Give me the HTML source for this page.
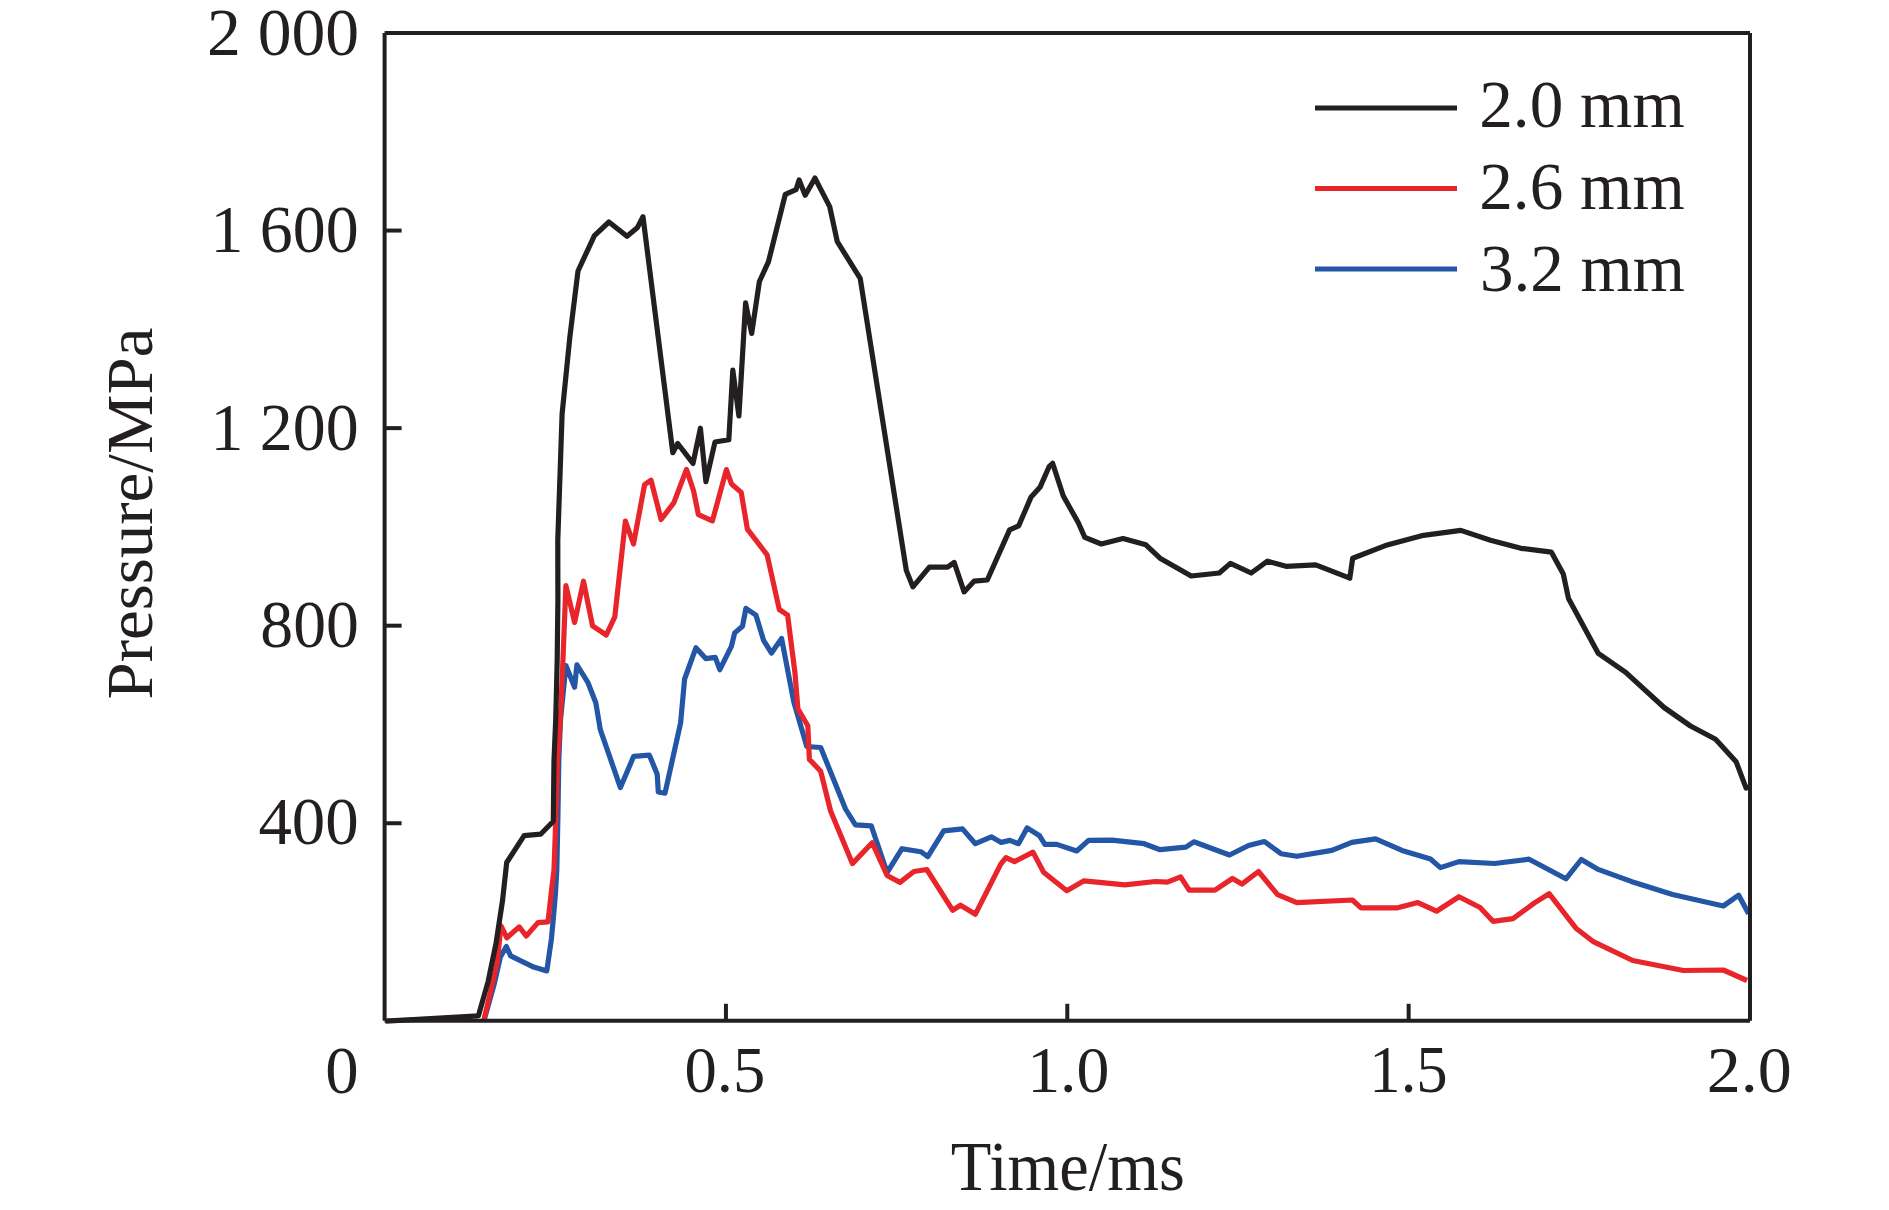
<!DOCTYPE html>
<html><head><meta charset="utf-8"><style>
html,body{margin:0;padding:0;background:#fff;width:1889px;height:1210px;overflow:hidden}
svg{display:block}
text{font-family:"Liberation Serif",serif;fill:#231f20}
</style></head><body>
<svg width="1889" height="1210" viewBox="0 0 1889 1210">
<rect width="1889" height="1210" fill="#fff"/>
<g fill="none" stroke-linejoin="round" stroke-linecap="butt">
<path d="M484.0,1020.5 L494.0,984.9 L500.4,956.9 L506.4,946.5 L510.6,955.9 L533.7,967.1 L546.8,970.9 L551.4,939.1 L553.6,915.5 L555.5,892.7 L556.8,870.0 L557.9,817.0 L558.8,760.0 L560.5,720.0 L565.9,665.5 L574.6,687.2 L576.9,664.9 L588.0,682.7 L595.8,702.8 L600.3,729.6 L620.4,787.6 L633.7,756.3 L649.4,755.2 L657.2,774.2 L658.3,792.0 L665.0,793.2 L680.6,722.9 L684.6,679.0 L695.9,647.8 L705.7,658.6 L715.3,657.4 L719.8,669.7 L731.4,646.3 L734.7,632.9 L742.5,626.2 L745.9,608.4 L755.9,615.1 L763.7,640.7 L771.5,653.0 L781.6,638.5 L793.8,702.1 L806.8,746.5 L820.7,747.5 L845.5,809.0 L855.4,824.9 L871.3,825.9 L887.1,872.5 L902.0,848.7 L920.8,851.7 L927.8,856.6 L943.7,830.8 L962.5,828.9 L975.4,843.7 L991.3,836.8 L1001.2,842.4 L1009.9,840.4 L1018.5,843.7 L1027.1,827.9 L1039.6,835.8 L1044.9,844.4 L1056.8,844.4 L1076.7,851.0 L1088.6,840.4 L1111.8,840.2 L1144.2,843.7 L1160.1,849.7 L1185.9,847.1 L1193.8,841.8 L1229.5,855.0 L1248.5,845.5 L1264.4,841.5 L1281.0,853.7 L1296.8,856.3 L1331.9,850.4 L1351.8,842.4 L1375.6,838.9 L1402.0,850.4 L1430.5,859.0 L1440.4,867.6 L1459.0,861.6 L1494.6,863.5 L1529.1,859.2 L1565.9,878.8 L1581.3,859.5 L1597.4,869.1 L1631.2,881.4 L1672.6,894.5 L1723.3,906.0 L1738.7,895.2 L1748.6,913.7" stroke="#2456a6" stroke-width="5.2"/>
<path d="M483.8,1020.3 L491.9,985.9 L497.2,962.3 L501.0,925.8 L506.9,937.8 L519.2,926.9 L526.2,936.0 L538.0,922.6 L548.0,921.8 L551.8,888.0 L554.0,870.0 L555.6,824.8 L557.5,760.0 L560.3,720.0 L562.6,669.0 L565.9,585.5 L574.6,622.5 L583.5,581.2 L592.5,625.8 L606.3,635.0 L614.8,616.9 L625.4,521.0 L633.5,544.0 L644.6,484.6 L651.0,480.2 L661.1,519.5 L673.9,502.7 L686.5,469.4 L693.6,491.0 L698.4,514.7 L712.4,520.9 L726.4,469.6 L731.5,484.0 L741.2,492.4 L747.4,529.2 L767.1,554.8 L779.3,609.5 L787.6,615.1 L795.0,673.1 L797.9,708.8 L807.8,725.7 L809.4,759.4 L820.7,771.3 L830.6,811.0 L852.4,863.6 L872.2,842.7 L887.1,875.5 L900.0,882.4 L913.9,871.5 L926.8,869.5 L952.6,910.2 L960.5,905.2 L975.4,914.2 L1000.6,864.3 L1005.9,857.6 L1014.5,861.6 L1033.0,852.1 L1043.6,872.2 L1066.8,890.7 L1084.0,880.8 L1125.0,884.8 L1155.4,881.5 L1167.3,882.1 L1180.6,876.8 L1189.2,890.1 L1215.0,890.1 L1232.4,878.5 L1241.9,884.1 L1258.5,871.5 L1277.6,894.7 L1296.8,902.6 L1352.4,900.0 L1361.0,907.9 L1396.8,907.9 L1417.9,902.6 L1436.5,911.2 L1459.0,896.7 L1480.0,907.5 L1493.0,921.3 L1513.0,918.7 L1534.5,902.9 L1549.1,893.7 L1575.9,928.2 L1592.8,941.3 L1632.7,960.5 L1683.4,970.5 L1723.3,970.0 L1747.0,980.5" stroke="#e8252a" stroke-width="5.2"/>
<path d="M385.5,1021.2 L478.4,1015.8 L488.1,981.6 L496.1,943.0 L502.6,900.0 L506.7,862.5 L524.1,835.6 L540.6,834.2 L553.3,821.3 L554.0,760.0 L555.7,720.0 L557.2,660.0 L557.9,600.0 L557.8,560.0 L557.8,539.4 L562.1,414.0 L569.8,337.6 L578.0,271.0 L594.4,235.6 L608.9,222.0 L627.0,236.2 L637.5,227.4 L643.0,216.8 L672.8,452.7 L677.7,443.5 L693.0,463.4 L700.4,428.2 L705.9,481.7 L715.0,442.0 L728.8,439.8 L732.8,370.1 L738.9,416.0 L745.6,302.9 L751.7,333.4 L759.4,281.5 L768.5,261.6 L785.3,194.3 L796.0,189.7 L799.1,180.0 L805.2,195.2 L815.0,178.1 L829.7,206.6 L837.3,241.7 L860.2,278.4 L906.3,570.4 L912.9,586.9 L929.4,567.1 L947.6,567.1 L954.2,562.5 L964.1,591.9 L974.0,581.2 L987.3,580.0 L1009.6,529.9 L1018.7,525.8 L1031.1,496.9 L1040.2,486.9 L1049.3,466.3 L1052.6,463.3 L1063.3,496.0 L1078.2,522.5 L1084.8,537.4 L1101.3,544.0 L1123.0,538.5 L1145.9,544.8 L1160.0,558.2 L1191.2,576.0 L1219.3,573.0 L1230.4,563.4 L1251.2,573.0 L1267.5,561.2 L1286.0,566.3 L1315.7,564.9 L1349.8,578.2 L1352.7,558.2 L1385.3,545.6 L1421.7,535.7 L1460.8,530.4 L1490.5,540.3 L1520.9,548.3 L1551.4,552.2 L1563.3,574.1 L1568.5,598.5 L1598.3,653.4 L1625.7,672.4 L1664.1,707.5 L1690.5,726.0 L1715.6,739.2 L1736.1,761.7 L1746.1,788.1 L1750.0,786.8" stroke="#231f20" stroke-width="5.2"/>
</g>
<g stroke="#231f20" stroke-width="4.0" fill="none">
<line x1="384.6" y1="33" x2="384.6" y2="1020.8"/>
<line x1="384.6" y1="1020.8" x2="1750" y2="1020.8"/>
<line x1="384.6" y1="33" x2="1750" y2="33"/>
<line x1="1750" y1="33" x2="1750" y2="1020.8"/>
<line x1="384.6" y1="823.24" x2="401.6" y2="823.24"/><line x1="384.6" y1="625.68" x2="401.6" y2="625.68"/><line x1="384.6" y1="428.12" x2="401.6" y2="428.12"/><line x1="384.6" y1="230.56" x2="401.6" y2="230.56"/><line x1="725.95" y1="1020.8" x2="725.95" y2="1003.8"/><line x1="1067.30" y1="1020.8" x2="1067.30" y2="1003.8"/><line x1="1408.65" y1="1020.8" x2="1408.65" y2="1003.8"/>
</g>
<line x1="1315" y1="108.0" x2="1457" y2="108.0" stroke="#231f20" stroke-width="5.0"/>
<line x1="1315" y1="188.5" x2="1457" y2="188.5" stroke="#e8252a" stroke-width="5.0"/>
<line x1="1315" y1="269.0" x2="1457" y2="269.0" stroke="#2456a6" stroke-width="5.0"/>
<g font-size="68.5"><text transform="translate(206.99,55.15) scale(0.9876,0.9958)">2 000</text>
<text transform="translate(210.41,252.37) scale(0.9624,0.9906)">1 600</text>
<text transform="translate(210.41,450.07) scale(0.9624,0.9906)">1 200</text>
<text transform="translate(260.29,647.07) scale(0.9593,0.9963)">800</text>
<text transform="translate(258.38,844.38) scale(0.9773,0.9966)">400</text>
<text transform="translate(325.15,1093.26) scale(0.9746,0.9850)">0</text>
<text transform="translate(684.42,1092.11) scale(0.9446,0.9681)">0.5</text>
<text transform="translate(1027.14,1091.86) scale(0.9611,0.9635)">1.0</text>
<text transform="translate(1369.32,1092.12) scale(0.9157,0.9845)">1.5</text>
<text transform="translate(1706.72,1091.81) scale(0.9938,0.9681)">2.0</text>
<text transform="translate(950.87,1189.55) scale(0.9706,1.0284)">Time/ms</text>
<text transform="translate(152.28,699.54) rotate(-90) scale(0.9775,0.9674)">Pressure/MPa</text>
<text transform="translate(1479.25,127.44) scale(0.9817,0.9796)">2.0 mm</text>
<text transform="translate(1479.25,208.81) scale(0.9817,0.9736)">2.6 mm</text>
<text transform="translate(1479.91,290.50) scale(0.9793,0.9850)">3.2 mm</text></g>
</svg>
</body></html>
